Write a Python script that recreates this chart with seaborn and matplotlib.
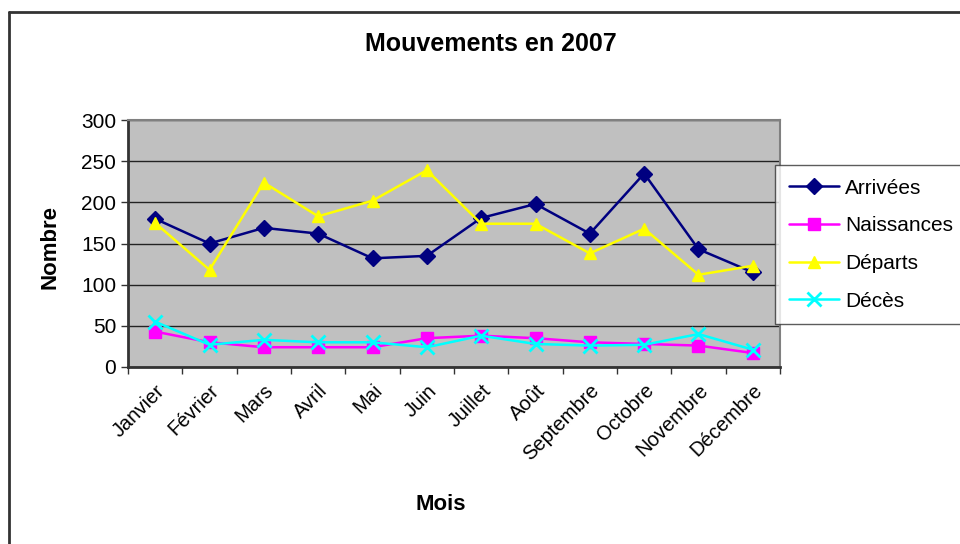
"""
Mouvements en 2007 : arrivées, naissances, départs et décès par mois.
"""

import matplotlib
matplotlib.use("Agg")
import matplotlib.pyplot as plt
from matplotlib.lines import Line2D
import pandas as pd
import seaborn as sns

mois = ["Janvier", "Février", "Mars", "Avril", "Mai", "Juin", "Juillet",
        "Août", "Septembre", "Octobre", "Novembre", "Décembre"]
arrivees = [180, 150, 169, 162, 132, 135, 181, 198, 162, 235, 143, 115]
naissances = [43, 30, 24, 24, 24, 35, 38, 35, 30, 28, 26, 17]
departs = [175, 118, 224, 183, 202, 239, 174, 174, 138, 168, 112, 123]
deces = [55, 27, 33, 30, 30, 24, 38, 28, 26, 27, 40, 21]

series = ["Arrivées", "Naissances", "Départs", "Décès"]
couleurs = ["#000080", "#FF00FF", "#FFFF00", "#00FFFF"]
marqueurs = ["D", "s", "^", "x"]

rows = []
for nom, vals in zip(series, [arrivees, naissances, departs, deces]):
    for i, v in enumerate(vals):
        rows.append({"idx": i, "Mois": mois[i], "Nombre": v, "serie": nom})
df = pd.DataFrame(rows)

sns.set_style("white")
plt.rcParams["font.family"] = ["Liberation Sans", "DejaVu Sans"]
for k in ["text.color", "axes.labelcolor", "xtick.labelcolor", "ytick.labelcolor"]:
    plt.rcParams[k] = "black"

fig = plt.figure(figsize=(9.6, 5.44), dpi=100)
ax = fig.add_axes([128 / 960, 1 - 367 / 544, 652 / 960, 247 / 544])

# cadre du graphique
fig.add_artist(Line2D([9 / 960, 9 / 960], [0, 1 - 12 / 544],
                      transform=fig.transFigure, color="#333333", lw=2))
fig.add_artist(Line2D([9 / 960, 1], [1 - 12 / 544, 1 - 12 / 544],
                      transform=fig.transFigure, color="#333333", lw=2))

ax.set_facecolor("#C0C0C0")
ax.set_axisbelow(True)
ax.yaxis.grid(True, color="#222222", lw=1)

for nom, c, m in zip(series, couleurs, marqueurs):
    sub = df[df.serie == nom]
    sns.lineplot(data=sub, x="idx", y="Nombre", ax=ax, color=c, marker=m,
                 markersize=8 if m != "x" else 10, markeredgecolor=c,
                 markeredgewidth=2 if m == "x" else 1, lw=1.8, label=nom)

ax.set_xlim(-0.5, 11.5)
ax.set_ylim(0, 300)
ax.set_yticks(range(0, 301, 50))
ax.set_xticks([i + 0.5 for i in range(-1, 12)], minor=False)
ax.set_xticklabels([])
ax.set_xticks(range(12), minor=True)
ax.set_xticklabels(mois, minor=True, rotation=45, ha="right",
                   rotation_mode="anchor", fontsize=14.5)
ax.tick_params(axis="x", which="minor", length=0, pad=10)
ax.tick_params(axis="x", which="major", length=5, width=1, color="#333333",
               direction="out", bottom=True)
ax.tick_params(axis="y", length=5, width=1, color="#333333", direction="out",
               left=True, labelsize=15)

for s in ["top", "right"]:
    ax.spines[s].set_color("#808080")
    ax.spines[s].set_linewidth(1.5)
for s in ["left", "bottom"]:
    ax.spines[s].set_color("#333333")
    ax.spines[s].set_linewidth(2)

ax.set_xlabel("Mois", fontsize=16, fontweight="bold")
ax.set_ylabel("Nombre", fontsize=16, fontweight="bold")
ax.xaxis.set_label_coords((441 - 128) / 652, (367 - 505) / 247)
ax.yaxis.set_label_coords((50 - 128) / 652, (367 - 247) / 247)
ax.xaxis.label.set_va("center")
ax.yaxis.label.set_va("center")
fig.text(491 / 960, 1 - 44 / 544, "Mouvements en 2007", ha="center",
         va="center", fontsize=18, fontweight="bold")

leg = ax.legend(loc="upper left", bbox_to_anchor=(775 / 960, 1 - 165 / 544),
                bbox_transform=fig.transFigure, frameon=True, fancybox=False,
                fontsize=15, edgecolor="#333333", borderpad=0.65,
                labelspacing=0.9, handlelength=2.4, handletextpad=0.3,
                borderaxespad=0)
leg.get_frame().set_linewidth(1)

fig.savefig("out.png", dpi=100)
